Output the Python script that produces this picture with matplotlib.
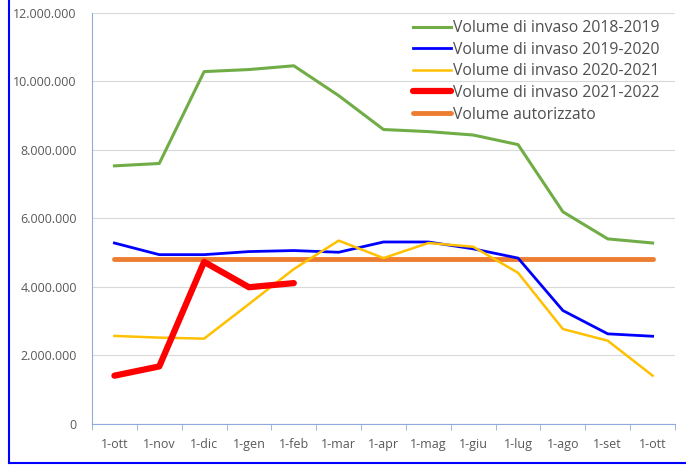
import numpy as np
import matplotlib.pyplot as plt
from matplotlib.lines import Line2D
from matplotlib.ticker import FuncFormatter

mesi = ['1-ott', '1-nov', '1-dic', '1-gen', '1-feb', '1-mar', '1-apr',
        '1-mag', '1-giu', '1-lug', '1-ago', '1-set', '1-ott']

vol_2018 = [7530000, 7600000, 10280000, 10340000, 10450000, 9580000, 8590000,
            8530000, 8430000, 8150000, 6190000, 5400000, 5280000]
vol_2019 = [5280000, 4940000, 4940000, 5030000, 5060000, 5010000, 5310000,
            5310000, 5110000, 4840000, 3310000, 2630000, 2560000]
vol_2020 = [2570000, 2520000, 2490000, 3500000, 4520000, 5350000, 4840000,
            5280000, 5170000, 4410000, 2770000, 2430000, 1410000]
vol_2021 = [1410000, 1680000, 4730000, 3990000, 4110000]
vol_autorizzato = [4820000] * 13

plt.rcParams['font.family'] = ['Open Sans', 'DejaVu Sans']

fig = plt.figure(figsize=(6.86, 4.68), dpi=100)
ax = fig.add_axes([0.1341, 0.094, 0.9840 - 0.1341, 0.973 - 0.094])

x = np.arange(len(mesi))
ax.plot(x, vol_2018, color='#70ad47', lw=2.2, label='Volume di invaso 2018-2019')
ax.plot(x, vol_2019, color='#0000ff', lw=2.0, label='Volume di invaso 2019-2020')
ax.plot(x, vol_2020, color='#ffc000', lw=1.8, label='Volume di invaso 2020-2021')
ax.plot(x[:len(vol_2021)], vol_2021, color='#ff0000', lw=4.5,
        solid_capstyle='round', label='Volume di invaso 2021-2022')
ax.plot(x, vol_autorizzato, color='#ed7d31', lw=3.5, solid_capstyle='round',
        label='Volume autorizzato', zorder=1.5)

ax.set_xlim(-0.5, len(mesi) - 0.5)
ax.set_ylim(0, 12000000)
ax.set_yticks(np.arange(0, 12000001, 2000000))
ax.yaxis.set_major_formatter(FuncFormatter(lambda v, p: f'{int(v):,}'.replace(',', '.')))
ax.set_xticks(x)
ax.set_xticklabels(mesi)
ax.set_xticks(np.arange(-0.5, len(mesi)), minor=True)
ax.tick_params(axis='x', which='major', length=0, pad=10, labelsize=9, colors='#595959')
ax.tick_params(axis='x', which='minor', length=4, color='#8faadc', direction='out')
ax.tick_params(axis='y', length=0, pad=11, labelsize=9, labelcolor='#595959')

ax.grid(axis='y', color='#d9d9d9', lw=0.8)
ax.set_axisbelow(True)
for s in ['top', 'right']:
    ax.spines[s].set_visible(False)
ax.spines['left'].set_color('#8faadc')
ax.spines['bottom'].set_color('#8faadc')

leg = ax.legend(loc='upper right', bbox_to_anchor=(0.99, 1.005), frameon=False,
                prop={'size': 11.3, 'weight': 'medium'}, handlelength=2.4,
                handletextpad=0.15, labelspacing=0.36, borderaxespad=0.2)
for t in leg.get_texts():
    t.set_color('#505050')

# cornice del grafico
fig.add_artist(Line2D([0.0138, 0.0138], [0.011, 1.0], transform=fig.transFigure,
                      color='#0000ff', lw=1.5))
fig.add_artist(Line2D([0.0138, 1.0], [0.011, 0.011], transform=fig.transFigure,
                      color='#0000ff', lw=1.5))

fig.savefig('out.png', dpi=100)
